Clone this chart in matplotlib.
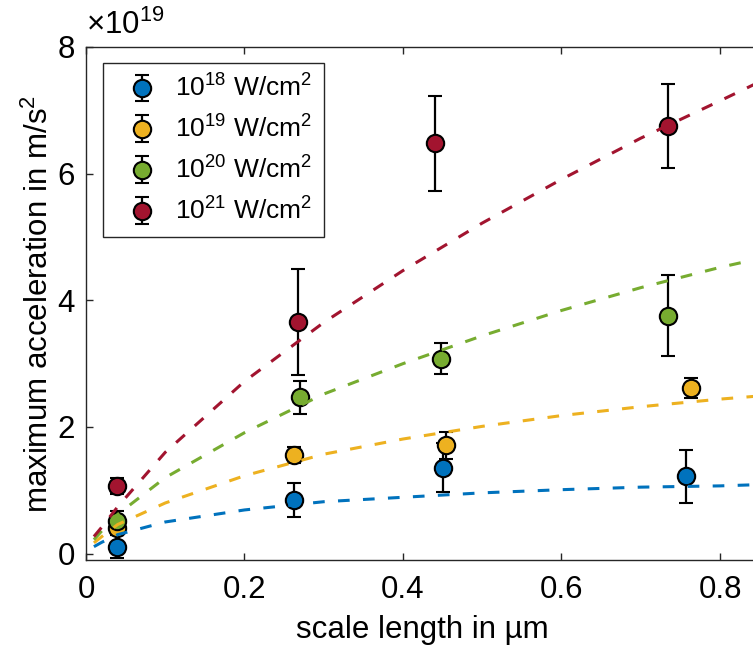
import matplotlib
matplotlib.use("Agg")
import matplotlib.pyplot as plt
import numpy as np

plt.rcParams['font.family'] = ['Liberation Sans', 'DejaVu Sans']
plt.rcParams['mathtext.default'] = 'regular'
plt.rcParams['lines.scale_dashes'] = False

# values in units of 1e19 m/s^2
labels = [r'$10^{18}$ W/cm$^{2}$', r'$10^{19}$ W/cm$^{2}$',
          r'$10^{20}$ W/cm$^{2}$', r'$10^{21}$ W/cm$^{2}$']
colors = ['#0072BD', '#EDB120', '#77AC30', '#A2142F']

# measured points
x_1e18 = [0.039, 0.262, 0.450, 0.757]
y_1e18 = [0.11, 0.85, 1.36, 1.22]
e_1e18 = [0.18, 0.27, 0.38, 0.42]

x_1e19 = [0.039, 0.262, 0.454, 0.763]
y_1e19 = [0.40, 1.56, 1.71, 2.62]
e_1e19 = [0.10, 0.13, 0.21, 0.16]

x_1e20 = [0.039, 0.270, 0.448, 0.734]
y_1e20 = [0.52, 2.47, 3.08, 3.76]
e_1e20 = [0.16, 0.26, 0.24, 0.64]

x_1e21 = [0.039, 0.268, 0.440, 0.734]
y_1e21 = [1.07, 3.66, 6.48, 6.75]
e_1e21 = [0.13, 0.84, 0.75, 0.66]

# fit curves
x_fit = [0.01, 0.02, 0.04, 0.1, 0.2, 0.3, 0.4, 0.5, 0.6, 0.7, 0.8, 0.85]
fit_1e18 = [0.11, 0.18, 0.30, 0.50, 0.69, 0.82, 0.89, 0.96, 1.01, 1.05, 1.07, 1.09]
fit_1e19 = [0.17, 0.27, 0.46, 0.80, 1.23, 1.57, 1.81, 2.01, 2.18, 2.32, 2.44, 2.49]
fit_1e20 = [0.22, 0.36, 0.62, 1.20, 1.91, 2.52, 3.00, 3.44, 3.84, 4.20, 4.52, 4.66]
fit_1e21 = [0.27, 0.42, 0.74, 1.60, 2.72, 3.65, 4.47, 5.22, 5.91, 6.56, 7.15, 7.45]

xs = [x_1e18, x_1e19, x_1e20, x_1e21]
ys = [y_1e18, y_1e19, y_1e20, y_1e21]
es = [e_1e18, e_1e19, e_1e20, e_1e21]
fits = [fit_1e18, fit_1e19, fit_1e20, fit_1e21]

fig = plt.figure(figsize=(7.53, 6.50), dpi=100)
ax = fig.add_axes([0.1142, 0.1385, 0.8946, 0.7892])

for i in range(4):
    ax.errorbar(xs[i], ys[i], yerr=es[i], fmt='o', color='k', ecolor='k',
                elinewidth=1.6, capsize=5, capthick=1.6,
                markerfacecolor=colors[i], markeredgecolor='k',
                markeredgewidth=1.5, markersize=12.5, label=labels[i], zorder=3)

for i in range(4):
    ax.plot(x_fit, fits[i], color=colors[i], lw=2.2, dashes=(8.4, 9.6), zorder=4)

ax.set_xlim(0, 0.85)
ax.set_ylim(-0.1, 8)
ax.set_xticks([0, 0.2, 0.4, 0.6, 0.8])
ax.set_xticklabels(['0', '0.2', '0.4', '0.6', '0.8'])
ax.set_yticks([0, 2, 4, 6, 8])

for s in ax.spines.values():
    s.set_color('#262626')
    s.set_linewidth(1.0)
ax.tick_params(direction='in', length=5, width=1.0, color='#262626',
               top=True, right=True, labelsize=22.5, labelcolor='k')
ax.tick_params(axis='x', pad=11)
ax.tick_params(axis='y', pad=8)

ax.set_xlabel('scale length in µm', fontsize=22.5, labelpad=7)
ax.set_ylabel('maximum acceleration in m/s$^{2}$', fontsize=22.5, labelpad=2)
ax.text(0.0, 1.012, r'$\times 10^{19}$', transform=ax.transAxes,
        fontsize=22.5, ha='left', va='bottom')

leg = ax.legend(loc='upper left', bbox_to_anchor=(0.025, 0.969),
                borderaxespad=0, fontsize=19, fancybox=False, framealpha=1,
                edgecolor='#262626', handlelength=2.08, handletextpad=0.22,
                labelspacing=0.52, borderpad=0.45)
leg.get_frame().set_linewidth(1.0)

fig.savefig('out.png', dpi=100)
